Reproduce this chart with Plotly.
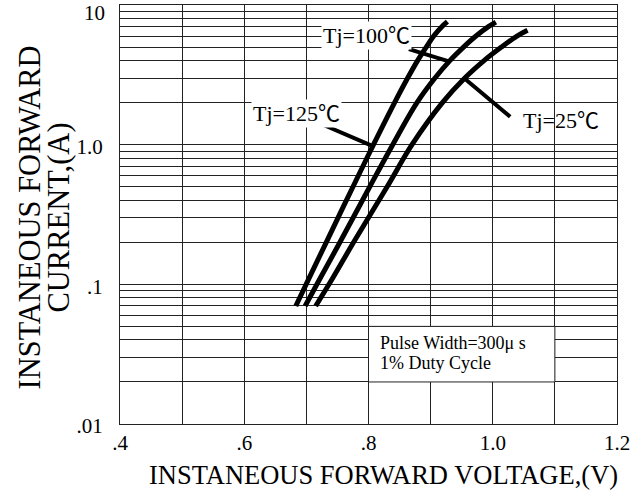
import math
import plotly.graph_objects as go

# Forward voltage (V) / forward current (A)
v_125 = [0.683, 0.704, 0.732, 0.775, 0.808, 0.842, 0.863, 0.879, 0.893, 0.905, 0.918, 0.927]
i_125 = [0.07, 0.11, 0.2, 0.5, 1.0, 2.0, 3.0, 4.0, 5.0, 6.0, 7.0, 7.6]

v_100 = [0.698, 0.722, 0.754, 0.802, 0.839, 0.878, 0.907, 0.931, 0.953, 0.973, 0.993, 1.005]
i_100 = [0.07, 0.11, 0.2, 0.5, 1.0, 2.0, 3.0, 4.0, 5.0, 6.0, 7.0, 7.55]

v_25 = [0.715, 0.742, 0.776, 0.830, 0.870, 0.919, 0.955, 0.986, 1.014, 1.039, 1.056]
i_25 = [0.07, 0.11, 0.2, 0.5, 1.0, 2.0, 3.0, 4.0, 5.0, 6.0, 6.6]

# Leader lines from labels to curves
lead_125_v = [0.725, 0.806]
lead_125_i = [1.40, 0.98]
lead_100_v = [0.865, 0.932]
lead_100_i = [4.83, 3.92]
lead_25_v = [0.956, 1.028]
lead_25_i = [2.94, 1.585]

x_tickvals = [0.4, 0.5, 0.6, 0.7, 0.8, 0.9, 1.0, 1.1, 1.2]
x_ticktext = [".4", "", ".6", "", ".8", "", "1.0", "", "1.2"]

decade_labels = {0.01: ".01", 0.1: ".1", 1.0: "1.0"}
y_tickvals = []
y_ticktext = []
for dec in [0.01, 0.1, 1.0]:
    for m in range(1, 10):
        y_tickvals.append(round(dec * m, 6))
        y_ticktext.append(decade_labels[dec] if m == 1 else "")
y_tickvals.append(10)
y_ticktext.append("")          # top label drawn below as text so it is not clipped
y_top_label = "10"

FONT = "Liberation Serif, Noto Sans CJK SC, serif"

fig = go.Figure()
for vv, ii in [(v_125, i_125), (v_100, i_100), (v_25, i_25)]:
    fig.add_trace(go.Scatter(x=vv, y=ii, mode="lines",
                             line=dict(color="black", width=5, shape="spline", smoothing=1.0),
                             showlegend=False, hoverinfo="skip"))
for vv, ii in [(lead_125_v, lead_125_i), (lead_100_v, lead_100_i), (lead_25_v, lead_25_i)]:
    fig.add_trace(go.Scatter(x=vv, y=ii, mode="lines", line=dict(color="black", width=4),
                             showlegend=False, hoverinfo="skip"))

# white box behind note
fig.add_shape(type="rect", xref="x", yref="y", x0=0.8, x1=1.1, y0=0.02, y1=0.05,
              fillcolor="white", line=dict(color="#222", width=1), layer="between")

lab_font = dict(family=FONT, size=22, color="black")
fig.add_annotation(x=0.684, y=math.log10(1.68), text="Tj=125℃", showarrow=False,
                   font=lab_font, xanchor="center", yanchor="middle", bgcolor="white")
fig.add_annotation(x=0.797, y=math.log10(6.07), text="Tj=100℃", showarrow=False,
                   font=lab_font, xanchor="center", yanchor="middle", bgcolor="white")
fig.add_annotation(x=1.110, y=math.log10(1.50), text="Tj=25℃", showarrow=False,
                   font=lab_font, xanchor="center", yanchor="middle")
note_font = dict(family=FONT, size=18, color="black")
fig.add_annotation(x=0.816, y=-1.42, text="Pulse Width=300μ s", showarrow=False,
                   xanchor="left", yanchor="middle", font=note_font)
fig.add_annotation(x=0.816, y=-1.565, text="1% Duty Cycle", showarrow=False,
                   xanchor="left", yanchor="middle", font=note_font)

# top y tick label
fig.add_annotation(xref="paper", yref="paper", x=0, y=1, xshift=-13, yshift=-8, text=y_top_label,
                   showarrow=False, xanchor="right", yanchor="middle",
                   font=dict(family=FONT, size=21, color="black"))

# y-axis title, two lines
ytitle_font = dict(family=FONT, size=30.5, color="black")
fig.add_annotation(xref="paper", yref="paper", x=0, y=0.5, xshift=-91, yshift=-3, text="INSTANEOUS FORWARD",
                   textangle=-90, showarrow=False, xanchor="center", yanchor="middle", font=ytitle_font)
fig.add_annotation(xref="paper", yref="paper", x=0, y=0.5, xshift=-62, yshift=-3, text="CURRENT,(A)",
                   textangle=-90, showarrow=False, xanchor="center", yanchor="middle", font=ytitle_font)
# x-axis title
fig.add_annotation(xref="paper", yref="paper", x=0.530, y=0, yshift=-51, text="INSTANEOUS FORWARD VOLTAGE,(V)",
                   showarrow=False, xanchor="center", yanchor="middle",
                   font=dict(family=FONT, size=26.5, color="black"))

fig.update_layout(
    width=643, height=497,
    margin=dict(l=120, r=26, t=5, b=73),
    plot_bgcolor="white", paper_bgcolor="white",
    font=dict(family=FONT, color="black"),
    xaxis=dict(range=[0.4, 1.2], tickvals=x_tickvals, ticktext=x_ticktext, automargin=False,
               showgrid=True, gridcolor="#222", gridwidth=1, zeroline=False,
               showline=True, linecolor="#222", mirror=True, ticks="",
               tickfont=dict(family=FONT, size=21)),
    yaxis=dict(type="log", range=[-2, 1.0002], tickvals=y_tickvals, ticktext=y_ticktext, automargin=False,
               showgrid=True, gridcolor="#222", gridwidth=1, zeroline=False,
               showline=True, linecolor="#222", mirror=True, ticks="",
               tickfont=dict(family=FONT, size=21), ticklabelshift=2, ticklabelstandoff=12),
)

fig.write_html("out.html", config={"displayModeBar": False},
               post_script="document.body.style.margin='0';document.body.style.overflow='hidden';")
